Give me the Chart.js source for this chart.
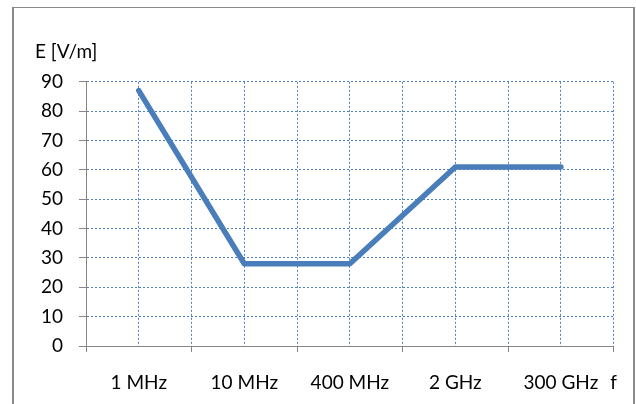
<!DOCTYPE html>
<html>
<head>
<meta charset="utf-8">
<script src="https://cdn.jsdelivr.net/npm/chart.js@4"></script>
<style>
  body { margin: 0; background: #fff; }
  #frame {
    position: absolute; left: 12px; top: 7px; width: 619px; height: 420px;
    border-top: 1px solid #8a8a8a; border-left: 2px solid #8a8a8a; border-right: 2px solid #8a8a8a;
  }
  #wrap { position: absolute; left: 0; top: 0; width: 636px; height: 404px; }
</style>
</head>
<body>
<div id="frame"></div>
<div id="wrap"><canvas id="myChart"></canvas></div>
<script>
const categories = ["1 MHz", "10 MHz", "400 MHz", "2 GHz", "300 GHz"]
const fieldValues = [87, 28, 28, 61, 61]
const yTicks = [0, 10, 20, 30, 40, 50, 60, 70, 80, 90]
const xAxisName = "f"
const yAxisName = "E [V/m]"

const blue = "#4a7ebb"
const gridBlue = "#4f81bd"
const axisGrey = "#868686"
const font = { family: "Lato", size: 19 }
const none = "rgba(0,0,0,0)"

const ctx = document.querySelector("#myChart")

// points sit in the middle of each category band
const points = fieldValues.map((v, i) => ({ x: i + 0.5, y: v }))

new Chart(ctx, {
  type: "line",
  data: {
    datasets: [
      {
        data: points,
        borderColor: blue,
        borderWidth: 5.5,
        pointRadius: 0,
        tension: 0,
        borderJoinStyle: "round",
        borderCapStyle: "round",
      },
    ],
  },
  options: {
    responsive: true,
    maintainAspectRatio: false,
    animation: false,
    layout: { padding: { left: 35, right: 19, top: 0, bottom: 0 } },
    plugins: {
      legend: { display: false },
      tooltip: { enabled: false },
      title: {
        display: true,
        text: yAxisName,
        align: "start",
        color: "#000",
        font: { ...font, weight: "normal" },
        padding: { top: 40, bottom: 19 },
      },
    },
    scales: {
      x: {
        type: "linear",
        min: 0,
        max: categories.length,
        afterFit: (scale) => { scale.height = 58 },
        afterBuildTicks: (scale) => {
          const t = []
          for (let v = 0; v <= categories.length; v += 0.5) t.push({ value: v })
          scale.ticks = t
        },
        border: { color: axisGrey, width: 1, dash: [2, 2] },
        grid: {
          color: (c) => (c.tick && c.tick.value === 0 ? none : gridBlue),
          lineWidth: 1,
          tickLength: 6,
          tickColor: (c) => (c.tick && Number.isInteger(c.tick.value) ? axisGrey : none),
        },
        ticks: {
          autoSkip: false,
          maxRotation: 0,
          padding: 19,
          color: "#000",
          font,
          callback: (v) => {
            if (v === categories.length) return xAxisName
            if (Number.isInteger(v)) return ""
            return categories[Math.floor(v)]
          },
        },
      },
      y: {
        min: yTicks[0],
        max: yTicks[yTicks.length - 1],
        afterFit: (scale) => { scale.width = 51 },
        afterBuildTicks: (scale) => {
          scale.ticks = yTicks.map((v) => ({ value: v }))
        },
        border: { color: axisGrey, width: 1, dash: [2, 2] },
        grid: {
          color: (c) => (c.tick && c.tick.value === 0 ? none : gridBlue),
          lineWidth: 1,
          tickLength: 7,
          tickColor: axisGrey,
        },
        ticks: {
          padding: 16,
          color: "#000",
          font,
        },
      },
    },
  },
})
</script>
</body>
</html>
